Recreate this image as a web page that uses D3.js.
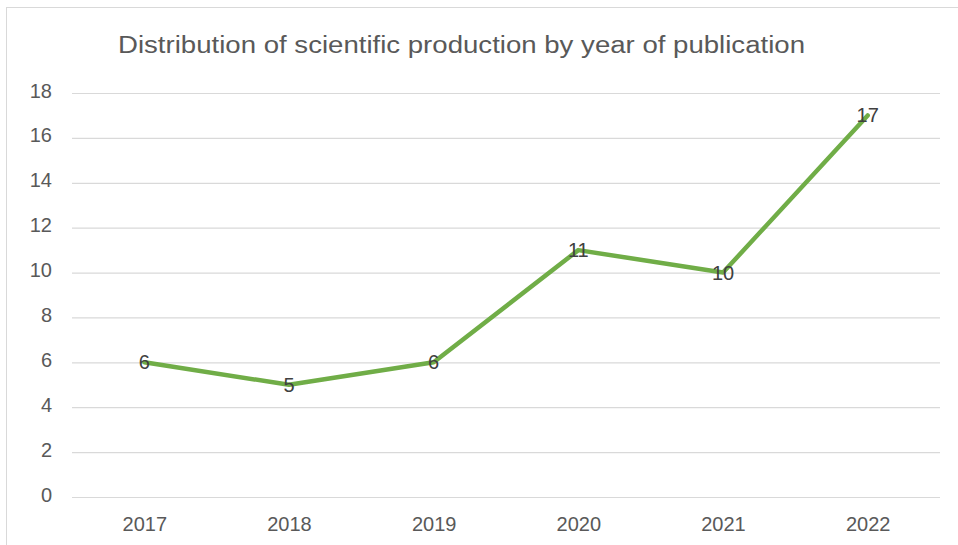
<!DOCTYPE html>
<html>
<head>
<meta charset="utf-8">
<script src="https://cdn.jsdelivr.net/npm/d3@7"></script>
<style>
  body { margin: 0; background: #fff; }
  text { font-family: "Liberation Sans", Arial, sans-serif; }
</style>
</head>
<body>
<svg id="chart" width="958" height="545"></svg>
<script>
const years = ['2017', '2018', '2019', '2020', '2021', '2022'];
const counts = [6, 5, 6, 11, 10, 17];
const yTicks = [0, 2, 4, 6, 8, 10, 12, 14, 16, 18];
const title = 'Distribution of scientific production by year of publication';

const width = 958, height = 545;
const plot = {left: 72, right: 940, top: 93, bottom: 497};

const svg = d3.select('#chart');

// chart frame
svg.append('rect')
    .attr('x', 6.5).attr('y', 7.5)
    .attr('width', width).attr('height', height)
    .attr('fill', '#fff')
    .attr('stroke', '#d9d9d9');

const x = d3.scalePoint().domain(years).range([plot.left, plot.right]).padding(0.5);
const y = d3.scaleLinear().domain([0, 18]).range([plot.bottom, plot.top]);

// gridlines
svg.append('g')
    .attr('transform', `translate(${plot.left},0)`)
    .call(d3.axisLeft(y).tickValues(yTicks).tickSize(-(plot.right - plot.left)).tickFormat(''))
    .call(g => g.select('.domain').remove())
    .call(g => g.selectAll('line').attr('stroke', '#d9d9d9').attr('stroke-width', 1.2));

// y labels
svg.append('g')
    .attr('transform', `translate(${plot.left},0)`)
    .call(d3.axisLeft(y).tickValues(yTicks).tickSize(0).tickPadding(20))
    .call(g => g.select('.domain').remove())
    .call(g => g.selectAll('text')
        .attr('fill', '#595959')
        .attr('dy', '0.2em')
        .style('font-size', '20px'));

// x labels
svg.append('g')
    .attr('transform', `translate(0,${plot.bottom})`)
    .call(d3.axisBottom(x).tickSize(0).tickPadding(20))
    .call(g => g.select('.domain').remove())
    .call(g => g.selectAll('text')
        .attr('fill', '#595959')
        .style('font-size', '20px'));

// title
svg.append('text')
    .attr('x', 118).attr('y', 53)
    .attr('fill', '#595959')
    .attr('textLength', 687)
    .attr('lengthAdjust', 'spacingAndGlyphs')
    .style('font-size', '23px')
    .text(title);

// line
const line = d3.line()
    .x((d, i) => x(years[i]))
    .y(d => y(d));

svg.append('path')
    .datum(counts)
    .attr('fill', 'none')
    .attr('stroke', '#70ad47')
    .attr('stroke-width', 4.5)
    .attr('stroke-linejoin', 'round')
    .attr('stroke-linecap', 'round')
    .attr('d', line);

// data labels
svg.append('g')
    .selectAll('text')
    .data(counts)
    .join('text')
    .attr('x', (d, i) => x(years[i]))
    .attr('y', d => y(d) + 7)
    .attr('text-anchor', 'middle')
    .attr('fill', '#404040')
    .style('font-size', '20px')
    .text(d => d);
</script>
</body>
</html>
